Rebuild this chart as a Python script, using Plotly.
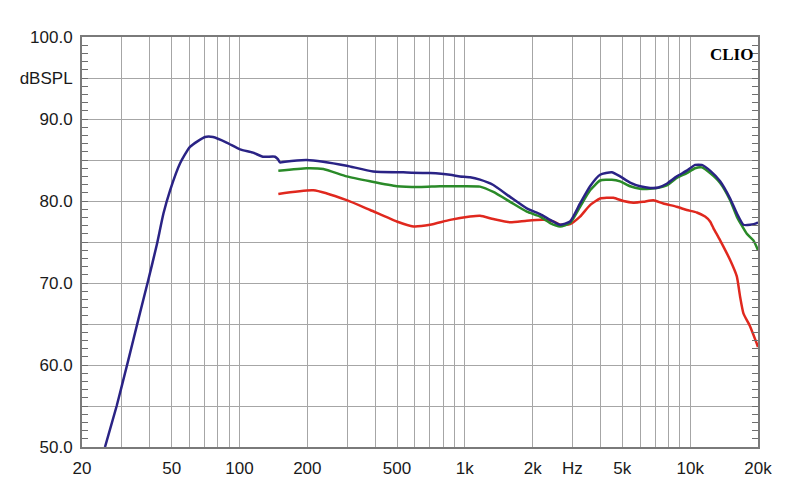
import plotly.graph_objects as go

# ---- data ----
freq_blue = [25.3, 28.5, 30.0, 32.1, 35.6, 39.4, 42.9, 46.0, 49.2, 54.5, 60.3, 70.3, 76.3, 88.1, 100.5,
             114.8, 127, 143.8, 148, 151.3, 159, 198.8, 235, 299, 392, 533, 700, 860, 952, 1055, 1168,
             1338, 1588, 1883, 2158, 2390, 2647, 2931, 3246, 3596, 3984, 4489, 4886, 5412, 5995, 6640,
             7226, 7874, 8721, 9661, 10515, 11260, 12256, 13584, 15043, 16108, 17232, 18450, 19756, 20000]
spl_blue = [50.0, 55.0, 57.4, 60.6, 65.6, 70.4, 74.6, 78.5, 81.3, 84.6, 86.6, 87.8, 87.8, 87.1, 86.3,
            85.9, 85.4, 85.4, 85.1, 84.7, 84.8, 85.0, 84.8, 84.3, 83.6, 83.5, 83.4, 83.2, 83.0, 82.9, 82.6,
            81.95, 80.5, 79.1, 78.4, 77.7, 77.1, 77.5, 79.7, 81.8, 83.2, 83.5, 83.0, 82.25, 81.8, 81.6,
            81.65, 82.1, 83.0, 83.7, 84.4, 84.4, 83.7, 82.4, 80.3, 78.5, 77.1, 77.1, 77.3, 77.4]

freq_green = [148.7, 198.8, 235.5, 299, 380, 499, 633, 776, 952, 1168, 1338, 1588, 1883, 2158, 2390,
              2647, 2931, 3246, 3596, 3984, 4489, 4886, 5412, 5995, 6640, 7226, 7874, 8721, 9661, 10515,
              11260, 12256, 13584, 15043, 16108, 17842, 19083, 20000]
spl_green = [83.7, 84.0, 83.9, 83.0, 82.4, 81.8, 81.7, 81.8, 81.8, 81.75, 81.1, 79.9, 78.7, 78.1, 77.3,
             76.9, 77.3, 79.3, 81.3, 82.5, 82.6, 82.4, 81.8, 81.5, 81.5, 81.6, 81.9, 82.8, 83.4, 84.0,
             84.1, 83.4, 82.2, 80.1, 78.1, 76.0, 75.2, 74.0]

freq_red = [148.7, 212.6, 299, 380, 499, 591, 701, 860, 1055, 1168, 1338, 1588, 1883, 2232, 2472, 2647,
            2931, 3246, 3596, 3984, 4563, 5053, 5597, 6200, 6866, 7604, 8721, 9661, 10700, 11647, 12256,
            12678, 13584, 15043, 16108, 16663, 17232, 18450, 19756, 20000]
spl_red = [80.85, 81.3, 80.1, 78.9, 77.5, 76.9, 77.1, 77.7, 78.1, 78.2, 77.8, 77.4, 77.6, 77.7, 77.5, 77.1,
           77.2, 78.1, 79.5, 80.3, 80.4, 80.0, 79.8, 79.9, 80.1, 79.7, 79.3, 78.9, 78.6, 78.1, 77.5,
           76.7, 75.2, 72.8, 70.8, 68.3, 66.3, 64.7, 62.6, 62.2]

x_grid = [20, 30, 40, 50, 60, 70, 80, 90, 100, 200, 300, 400, 500, 600, 700, 800, 900,
          1000, 2000, 3000, 4000, 5000, 6000, 7000, 8000, 9000, 10000, 20000]
x_labels = {20: "20", 50: "50", 100: "100", 200: "200", 500: "500", 1000: "1k", 2000: "2k",
            3000: "Hz", 5000: "5k", 10000: "10k", 20000: "20k"}
y_grid = [50, 55, 60, 65, 70, 75, 80, 85, 90, 95, 100]
y_labels = {50: "50.0", 60: "60.0", 70: "70.0", 80: "80.0", 90: "90.0", 95: "dBSPL", 100: "100.0"}

tick_col = "#6e6e6e"

fig = go.Figure()
for f, s, c in [(freq_red, spl_red, "#e0281e"), (freq_green, spl_green, "#2a8a28"),
                (freq_blue, spl_blue, "#2a2385")]:
    fig.add_trace(go.Scatter(x=f, y=s, mode="lines",
                             line=dict(color=c, width=2.5, shape="spline", smoothing=0.5),
                             showlegend=False, hoverinfo="skip"))
# invisible trace so the right-hand tick axis is drawn
fig.add_trace(go.Scatter(x=[freq_blue[0]], y=[spl_blue[0]], yaxis="y2", mode="lines",
                         line=dict(width=0), showlegend=False, hoverinfo="skip"))

fig.update_layout(
    width=800, height=504,
    margin=dict(l=82, r=42, t=37, b=57),
    paper_bgcolor="white", plot_bgcolor="white",
    font=dict(family="Liberation Sans, Arial, sans-serif", size=17, color="#1a1a1a"),
    yaxis2=dict(overlaying="y", side="right", range=[50, 100], anchor="x",
                tickvals=y_grid, showticklabels=False, showgrid=False, zeroline=False,
                showline=False,
                ticks="inside", ticklen=6, tickcolor=tick_col, tickwidth=1,
                minor=dict(dtick=1, ticks="inside", ticklen=6, tickcolor=tick_col, showgrid=False)),
)
fig.update_xaxes(
    type="log", range=[1.30103, 4.30103],
    tickvals=x_grid, ticktext=[x_labels.get(v, "") for v in x_grid],
    showgrid=True, gridcolor="#a6a6a6", gridwidth=1,
    showline=True, linecolor="#7a7a7a", linewidth=2, mirror=True,
    ticks="", zeroline=False, ticklabelstandoff=5,
)
fig.update_layout(yaxis=dict(
    range=[50, 100],
    tickvals=y_grid, ticktext=[y_labels.get(v, "") for v in y_grid],
    showgrid=True, gridcolor="#a6a6a6", gridwidth=1,
    showline=True, linecolor="#7a7a7a", linewidth=2, mirror=True,
    ticks="inside", ticklen=6, tickcolor=tick_col,
    minor=dict(dtick=1, ticks="inside", ticklen=6, tickcolor=tick_col, showgrid=False),
    zeroline=False, ticklabelstandoff=4,
))
fig.add_annotation(text="<b>CLIO</b>", xref="paper", yref="paper", x=0.995, y=0.985,
                   xanchor="right", yanchor="top", showarrow=False,
                   font=dict(family="Liberation Serif, Times New Roman, serif", size=17, color="black"))

fig.write_html("out.html")
